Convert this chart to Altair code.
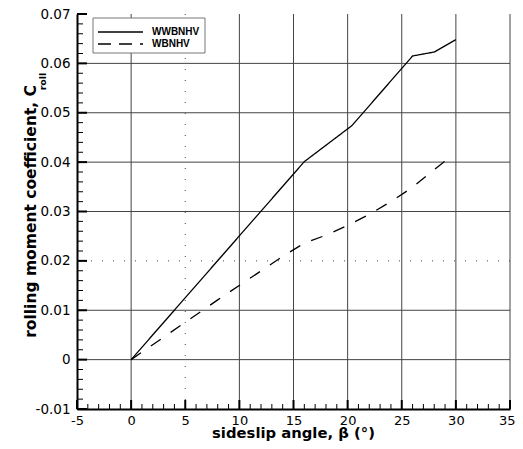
import altair as alt
import pandas as pd

# ---- data ----
series_names = ["WWBNHV", "WBNHV"]
beta_wwbnhv = [0, 16, 20.4, 26, 28, 30]
croll_wwbnhv = [0, 0.0401, 0.0474, 0.0615, 0.0623, 0.0648]
beta_wbnhv = [0, 8, 14, 16, 18, 20, 22, 24, 26, 28, 29.3]
croll_wbnhv = [0, 0.0121, 0.0209, 0.0236, 0.0252, 0.0272, 0.0294, 0.032, 0.0349, 0.0385, 0.0407]

x_ticks_major = [-5, 0, 5, 10, 15, 20, 25, 30, 35]
y_ticks_major = [-0.01, 0, 0.01, 0.02, 0.03, 0.04, 0.05, 0.06, 0.07]
grid_x_solid = [0, 10, 15, 20, 25, 30, 35]
grid_x_dotted = [5]
grid_y_solid = [0, 0.01, 0.03, 0.04, 0.05, 0.06]
grid_y_dotted = [0.02]
x_minor = [v for v in range(-5, 36) if v % 5 != 0]
y_minor = [round(-0.01 + 0.002 * i, 4) for i in range(41) if i % 5 != 0]

x_title = "sideslip angle, β (°)"
y_title = "rolling moment coefficient, C"
y_title_sub = "roll"

W, H = 433, 395
FONT = "DejaVu Sans"
LEGFONT = "Liberation Sans"

xs = alt.Scale(domain=[-5, 35], nice=False, zero=False)
ys = alt.Scale(domain=[-0.01, 0.07], nice=False, zero=False)

axis_common = dict(domain=True, domainColor="black", domainWidth=2, ticks=False, tickSize=0,
                   grid=False, labelFont=FONT, labelColor="black",
                   title=None, labelOverlap=False, labelFlush=False)
XAX = alt.Axis(values=x_ticks_major, labelPadding=5, labelFontSize=13, labelExpr="'' + datum.value",
               labelAlign={"condition": {"test": "datum.value == 35", "value": "right"}, "value": "center"},
               labelOffset={"condition": {"test": "datum.value == 35", "value": 5}, "value": 0},
               **axis_common)
YAX = alt.Axis(values=y_ticks_major, labelPadding=7, labelFontSize=13.5,
               labelExpr="'' + round(datum.value*100)/100", **axis_common)

df = pd.concat([
    pd.DataFrame({"beta": beta_wwbnhv, "croll": croll_wwbnhv, "series": series_names[0], "ord": range(len(beta_wwbnhv))}),
    pd.DataFrame({"beta": beta_wbnhv, "croll": croll_wbnhv, "series": series_names[1], "ord": range(len(beta_wbnhv))}),
])

GRID = "#444444"

def vrules(vals, dash=None, width=1):
    kw = dict(color=GRID, strokeWidth=width)
    if dash:
        kw["strokeDash"] = dash
    return alt.Chart(pd.DataFrame({"v": vals})).mark_rule(**kw).encode(
        x=alt.X("v:Q", scale=xs, axis=XAX))

def hrules(vals, dash=None, width=1):
    kw = dict(color=GRID, strokeWidth=width)
    if dash:
        kw["strokeDash"] = dash
    return alt.Chart(pd.DataFrame({"v": vals})).mark_rule(**kw).encode(
        y=alt.Y("v:Q", scale=ys, axis=YAX))

grid = [
    vrules(grid_x_solid),
    vrules(grid_x_dotted, dash=[1, 10]),
    hrules(grid_y_solid),
    hrules(grid_y_dotted, dash=[1, 10]),
]

# ticks (pointing inward)
xmaj = alt.Chart(pd.DataFrame({"v": x_ticks_major})).mark_rule(color="black", strokeWidth=2).encode(
    x=alt.X("v:Q", scale=xs, axis=XAX), y=alt.value(H), y2=alt.value(H - 9))
xmin = alt.Chart(pd.DataFrame({"v": x_minor})).mark_rule(color="black", strokeWidth=1).encode(
    x=alt.X("v:Q", scale=xs, axis=XAX), y=alt.value(H), y2=alt.value(H - 5))
ymaj = alt.Chart(pd.DataFrame({"v": y_ticks_major})).mark_rule(color="black", strokeWidth=2).encode(
    y=alt.Y("v:Q", scale=ys, axis=YAX), x=alt.value(0), x2=alt.value(10))
ymin = alt.Chart(pd.DataFrame({"v": y_minor})).mark_rule(color="black", strokeWidth=1).encode(
    y=alt.Y("v:Q", scale=ys, axis=YAX), x=alt.value(0), x2=alt.value(6))

lines = alt.Chart(df).mark_line(color="black", strokeWidth=1.3).encode(
    x=alt.X("beta:Q", scale=xs, axis=XAX),
    y=alt.Y("croll:Q", scale=ys, axis=YAX),
    strokeDash=alt.StrokeDash("series:N", scale=alt.Scale(domain=series_names, range=[[1, 0], [12, 12]]), legend=None),
    order="ord:Q",
)

# titles
ytitle = alt.Chart(pd.DataFrame({"t": [y_title]})).mark_text(
    angle=270, font=FONT, fontSize=15.5, fontWeight="bold", align="right", baseline="alphabetic", color="black"
).encode(x=alt.value(-41.5), y=alt.value(71), text="t:N")
ysub = alt.Chart(pd.DataFrame({"t": [y_title_sub]})).mark_text(
    angle=270, font=FONT, fontSize=9.5, fontWeight="bold", align="center", baseline="alphabetic", color="black"
).encode(x=alt.value(-31.5), y=alt.value(67.5), text="t:N")
xtitle = alt.Chart(pd.DataFrame({"t": [x_title]})).mark_text(
    font=FONT, fontSize=14.8, fontWeight="bold", align="center", baseline="alphabetic", color="black"
).encode(x=alt.value(W / 2), y=alt.value(423.5), text="t:N")

# legend box
leg_box = alt.Chart(pd.DataFrame({"a": [0]})).mark_rect(fill="white", stroke="#777777", strokeWidth=1).encode(
    x=alt.value(16), x2=alt.value(128), y=alt.value(4), y2=alt.value(39))
leg_l1 = alt.Chart(pd.DataFrame({"a": [0]})).mark_rule(color="black", strokeWidth=1.5).encode(
    x=alt.value(21), x2=alt.value(66), y=alt.value(18))
leg_l2 = alt.Chart(pd.DataFrame({"a": [0]})).mark_rule(color="black", strokeWidth=1.5, strokeDash=[13, 8]).encode(
    x=alt.value(21), x2=alt.value(66), y=alt.value(30))
leg_t1 = alt.Chart(pd.DataFrame({"t": [series_names[0]]})).mark_text(
    font=LEGFONT, fontSize=10, fontWeight="bold", align="left", baseline="middle", color="black"
).encode(x=alt.value(75), y=alt.value(18), text="t:N")
leg_t2 = alt.Chart(pd.DataFrame({"t": [series_names[1]]})).mark_text(
    font=LEGFONT, fontSize=10, fontWeight="bold", align="left", baseline="middle", color="black"
).encode(x=alt.value(75), y=alt.value(30), text="t:N")

chart = alt.layer(
    *grid, lines, xmin, xmaj, ymin, ymaj, ytitle, ysub, xtitle,
    leg_box, leg_l1, leg_l2, leg_t1, leg_t2
).properties(
    width=W, height=H,
    autosize=alt.AutoSizeParams(type="none"),
    padding={"left": 69, "top": 6, "right": 5, "bottom": 32},
    background="white",
).configure_view(stroke=None)

chart.save("out.html", embed_options={"renderer": "svg", "actions": False})
